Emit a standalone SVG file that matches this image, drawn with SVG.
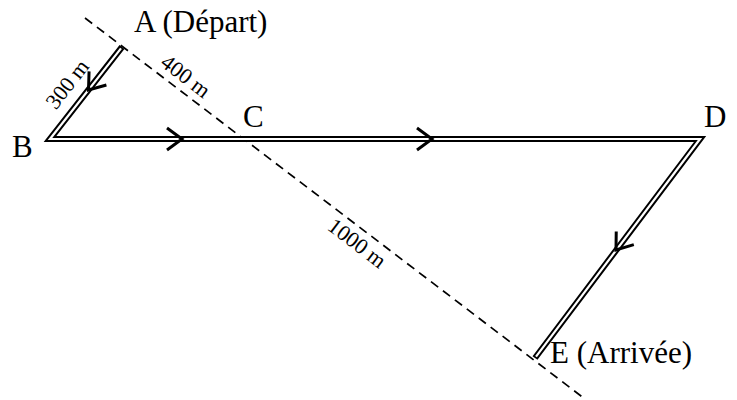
<svg xmlns="http://www.w3.org/2000/svg" width="737" height="400" viewBox="0 0 737 400">
<style>
.lbl{font-family:"Liberation Serif","Times New Roman",serif;font-size:31px;fill:#000}
.dim{font-family:"Liberation Serif","Times New Roman",serif;font-size:22px;fill:#000;text-anchor:middle}
.outer{fill:none;stroke:#000;stroke-width:6.2;stroke-linejoin:miter;stroke-miterlimit:10}
.inner{fill:none;stroke:#fff;stroke-width:2.2;stroke-linejoin:miter;stroke-miterlimit:10}
.dash{fill:none;stroke:#000;stroke-width:1.7;stroke-dasharray:9 6}
.chev{fill:none;stroke:#000;stroke-width:3}
</style>
<defs>
<path id="chev" class="chev" d="M-15,-11 L0,0 L-15,11"/>
</defs>
<rect width="737" height="400" fill="#fff"/>
<g id="connectors">
<line class="dash" x1="85" y1="18" x2="585" y2="399"/>
<path class="outer" d="M122,47 L50,139 L700,139 L535,358"/>
<path class="inner" d="M121,48.4 L50,139 L700,139 L536,356.6"/>
<use href="#chev" transform="translate(88.5,90) rotate(128)"/>
<use href="#chev" transform="translate(182,139)"/>
<use href="#chev" transform="translate(432,139)"/>
<use href="#chev" transform="translate(616,250) rotate(127)"/>
<text class="dim" transform="translate(73,88.6) rotate(-52)">300 m</text>
<text class="dim" transform="translate(181.3,81.9) rotate(37.3)">400 m</text>
<text class="dim" transform="translate(352.7,248.9) rotate(37.3)">1000 m</text>
</g>
<g id="A"><text class="lbl" x="134" y="32">A (Départ)</text></g>
<g id="B"><text class="lbl" x="12" y="157">B</text></g>
<g id="C"><text class="lbl" x="243" y="127">C</text></g>
<g id="D"><text class="lbl" x="704" y="127">D</text></g>
<g id="E"><text class="lbl" x="550" y="363">E (Arrivée)</text></g>
</svg>
